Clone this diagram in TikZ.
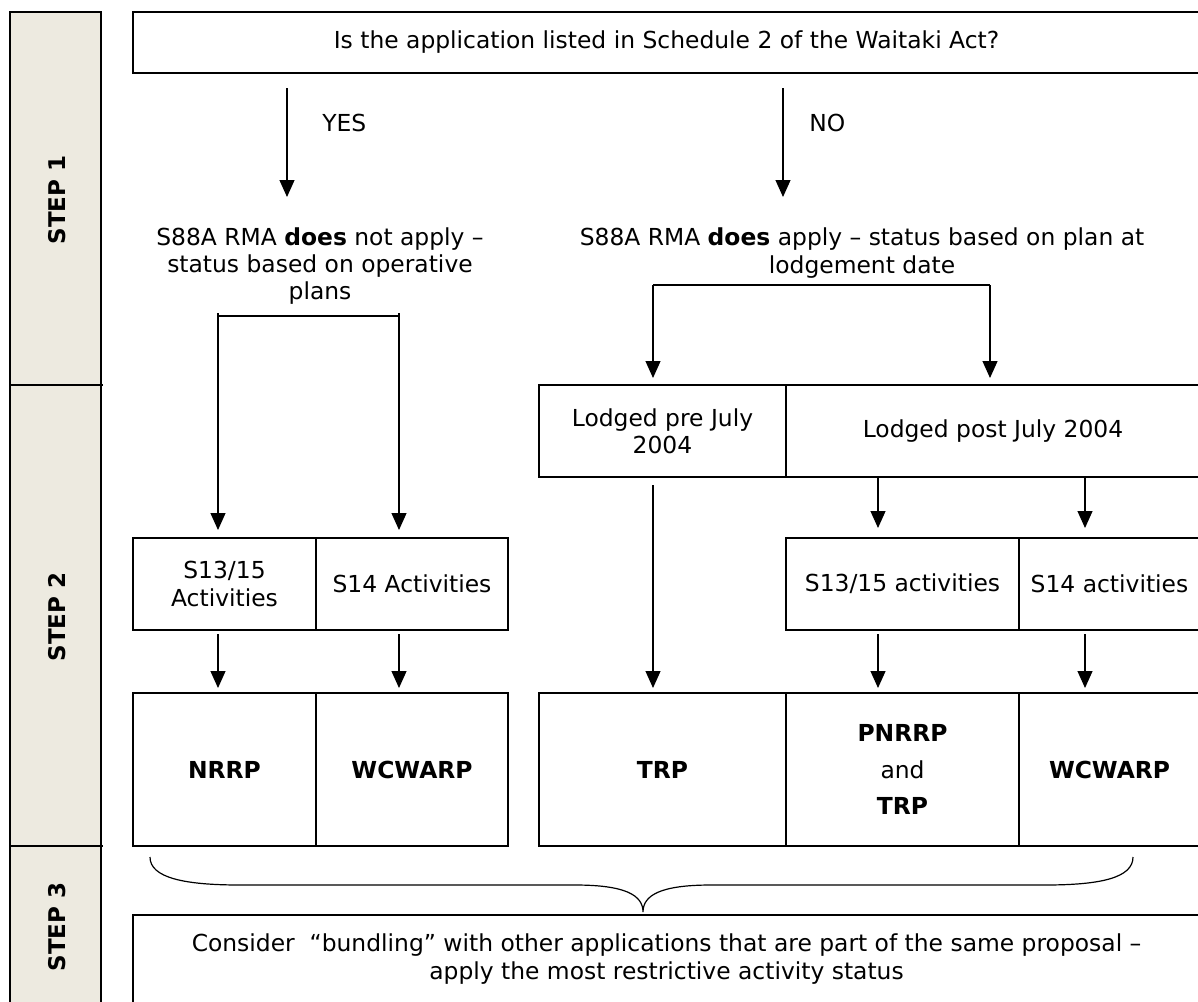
\documentclass[tikz,border=0pt]{standalone}
\usepackage{fontspec}
\setmainfont{DejaVu Sans}
\usepackage{tikz}
\usetikzlibrary{positioning}
\usetikzlibrary{arrows.meta}
\definecolor{stepgray}{RGB}{237,234,224}

\begin{document}
\begin{tikzpicture}[x=0.5pt, y=-0.5pt, font=\fontsize{11.7pt}{13.6pt}\selectfont,
    box/.style={draw, rectangle, line width=1pt, inner sep=0pt, outer sep=0pt, align=center},
    arr/.style={-{Triangle[width=7.5pt,length=8.5pt]}, line width=0.6pt},
    steplabel/.style={rotate=90, font=\fontsize{11.5pt}{13.6pt}\selectfont\bfseries}]
    \useasboundingbox (0,0) rectangle (1198,1001);

    % Step column
    \draw [fill=stepgray, line width=1pt] (10,12) rectangle (101,1010);
    \draw [line width=1pt] (10,385) -- (103,385);
    \draw [line width=1pt] (10,846) -- (103,846);
    \node [steplabel] (step1) at (57,200) {STEP 1};
    \node [steplabel] (step2) at (57,617) {STEP 2};
    \node [steplabel] (step3) at (57,927) {STEP 3};

    % Nodes
    \node [box, minimum width=533.5pt, minimum height=30.5pt] (q) at (666.5,42.5)
        {Is the application listed in Schedule 2 of the Waitaki Act?};

    \node [align=center, inner sep=0pt] (sL) at (320,266)
        {S88A RMA \textbf{does} not apply --\\ status based on operative\\ plans};
    \node [align=center, inner sep=0pt] (sR) at (862,253)
        {S88A RMA \textbf{does} apply -- status based on plan at\\ lodgement date};

    \node [box, minimum width=123.5pt, minimum height=46pt] (lpre) at (662.5,431) {Lodged pre July\\ 2004};
    \node [box, minimum width=207pt, minimum height=46pt, right=0pt of lpre] (lpost) {Lodged post July 2004};

    \node [box, minimum width=91.5pt, minimum height=46pt] (s13L) at (224.5,584) {S13/15\\ Activities};
    \node [box, minimum width=96pt, minimum height=46pt, right=0pt of s13L] (s14L) {S14 Activities};
    \node [box, minimum width=116.5pt, minimum height=46pt] (s13R) at (902.5,584) {S13/15 activities};
    \node [box, minimum width=90.5pt, minimum height=46pt, right=0pt of s13R] (s14R) {S14 activities};

    \node [box, minimum width=91.5pt, minimum height=76.5pt] (nrrp) at (224.5,769.5) {\textbf{NRRP}};
    \node [box, minimum width=96pt, minimum height=76.5pt, right=0pt of nrrp] (wcwL) {\textbf{WCWARP}};
    \node [box, minimum width=123.5pt, minimum height=76.5pt] (trp) at (662.5,769.5) {\textbf{TRP}};
    \node [box, minimum width=116.5pt, minimum height=76.5pt, right=0pt of trp] (pnrrp)
        {\textbf{PNRRP}\\[4.5pt] and\\[4.5pt] \textbf{TRP}};
    \node [box, minimum width=90.5pt, minimum height=76.5pt, right=0pt of pnrrp] (wcwR) {\textbf{WCWARP}};

    \node [box, minimum width=533.5pt, minimum height=44pt] (bund) at (666.5,959)
        {Consider \ ``bundling'' with other applications that are part of the same proposal --\\ apply the most restrictive activity status};

    % Columns of the arrows
    \coordinate (yes) at (287,197);
    \coordinate (no) at (783,197);
    \coordinate (cA) at (218,313);
    \coordinate (cB) at (399,313);
    \coordinate (cC) at (653,285);
    \coordinate (cD) at (878,0);
    \coordinate (cE) at (1085,0);
    \coordinate (cF) at (990,285);

    % Arrows
    \draw [arr, shorten <=7.5pt] (q.south -| yes) -- (yes) node [pos=0.4, right=14pt] (yeslab) {YES};
    \draw [arr, shorten <=7.5pt] (q.south -| no) -- (no) node [pos=0.4, right=9.5pt] (nolab) {NO};

    \draw [line width=0.6pt] (218,316) -- (399,316);
    \draw [arr, shorten >=4pt] (cA) -- (s13L.north -| cA);
    \draw [arr, shorten >=4pt] (cB) -- (s14L.north -| cB);

    \draw [line width=0.6pt] (cC) -- (cF);
    \draw [arr, shorten >=3.5pt] (cC) -- (lpre.north -| cC);
    \draw [arr, shorten >=3.5pt] (cF) -- (lpost.north -| cF);

    \draw [arr, shorten >=5pt] (lpost.south -| cD) -- (s13R.north -| cD);
    \draw [arr, shorten >=5pt] (lpost.south -| cE) -- (s14R.north -| cE);

    \draw [arr, shorten <=2pt, shorten >=2.5pt] (s13L.south -| cA) -- (nrrp.north -| cA);
    \draw [arr, shorten <=2pt, shorten >=2.5pt] (s14L.south -| cB) -- (wcwL.north -| cB);
    \draw [arr, shorten <=4pt, shorten >=2.5pt] (lpre.south -| cC) -- (trp.north -| cC);
    \draw [arr, shorten <=2pt, shorten >=2.5pt] (s13R.south -| cD) -- (pnrrp.north -| cD);
    \draw [arr, shorten <=2pt, shorten >=2.5pt] (s14R.south -| cE) -- (wcwR.north -| cE);

    % Brace
    \draw [line width=0.6pt] (150,857) .. controls (150,878) and (185,885) .. (240,885)
        -- (575,885) .. controls (625,885) and (643,895) .. (643,912)
        .. controls (643,895) and (661,885) .. (711,885)
        -- (1045,885) .. controls (1100,885) and (1133,878) .. (1133,857);
\end{tikzpicture}
\end{document}
